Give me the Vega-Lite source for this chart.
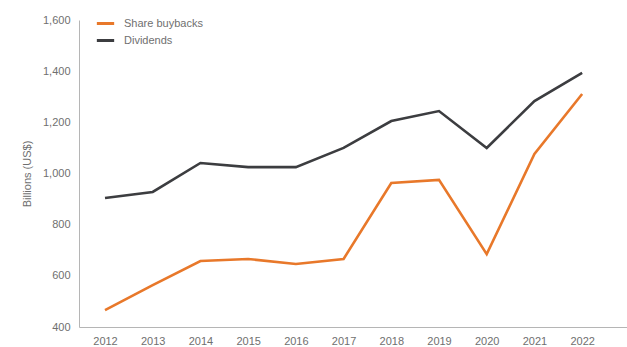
{
  "$schema": "https://vega.github.io/schema/vega-lite/v6.json",
  "autosize": {"type": "none"},
  "width": 548,
  "height": 307,
  "padding": {"left": 79, "top": 20, "right": 0, "bottom": 20},
  "background": "white",
  "config": {
    "view": {"stroke": null},
    "font": "Liberation Sans",
    "axis": {"labelColor": "#6f6f6f", "labelFontSize": 11, "titleColor": "#6f6f6f", "titleFontWeight": "normal", "titleFontSize": 11, "domainColor": "#b5b5b5", "grid": false, "ticks": false}
  },
  "data": {
    "values": [
      {"year": 2012, "series": "Share buybacks", "value": 466},
      {"year": 2013, "series": "Share buybacks", "value": 564},
      {"year": 2014, "series": "Share buybacks", "value": 658},
      {"year": 2015, "series": "Share buybacks", "value": 666},
      {"year": 2016, "series": "Share buybacks", "value": 646},
      {"year": 2017, "series": "Share buybacks", "value": 666},
      {"year": 2018, "series": "Share buybacks", "value": 963},
      {"year": 2019, "series": "Share buybacks", "value": 975},
      {"year": 2020, "series": "Share buybacks", "value": 685},
      {"year": 2021, "series": "Share buybacks", "value": 1076},
      {"year": 2022, "series": "Share buybacks", "value": 1311},
      {"year": 2012, "series": "Dividends", "value": 904},
      {"year": 2013, "series": "Dividends", "value": 928},
      {"year": 2014, "series": "Dividends", "value": 1041},
      {"year": 2015, "series": "Dividends", "value": 1025},
      {"year": 2016, "series": "Dividends", "value": 1025},
      {"year": 2017, "series": "Dividends", "value": 1100},
      {"year": 2018, "series": "Dividends", "value": 1205},
      {"year": 2019, "series": "Dividends", "value": 1244},
      {"year": 2020, "series": "Dividends", "value": 1100},
      {"year": 2021, "series": "Dividends", "value": 1283},
      {"year": 2022, "series": "Dividends", "value": 1393}
    ]
  },
  "mark": {"type": "line", "strokeWidth": 2.6},
  "encoding": {
    "x": {
      "field": "year", "type": "quantitative",
      "scale": {"domain": [2011.455, 2022.94], "nice": false, "zero": false},
      "axis": {"values": [2012,2013,2014,2015,2016,2017,2018,2019,2020,2021,2022], "format": "d", "title": null, "labelPadding": 8, "labelFlush": false}
    },
    "y": {
      "field": "value", "type": "quantitative",
      "scale": {"domain": [400, 1600], "nice": false, "zero": false},
      "axis": {"values": [400,600,800,1000,1200,1400,1600], "format": ",d", "title": "Billions (US$)", "labelPadding": 9, "titlePadding": 10}
    },
    "color": {
      "field": "series", "type": "nominal",
      "scale": {"domain": ["Share buybacks", "Dividends"], "range": ["#e8782a", "#3c3d40"]},
      "legend": {"title": null, "orient": "none", "legendX": 16, "legendY": -7, "symbolType": "stroke", "symbolStrokeWidth": 3, "symbolSize": 300, "labelOffset": 8, "labelFontSize": 11, "labelColor": "#6f6f6f", "rowPadding": 0}
    }
  }
}
